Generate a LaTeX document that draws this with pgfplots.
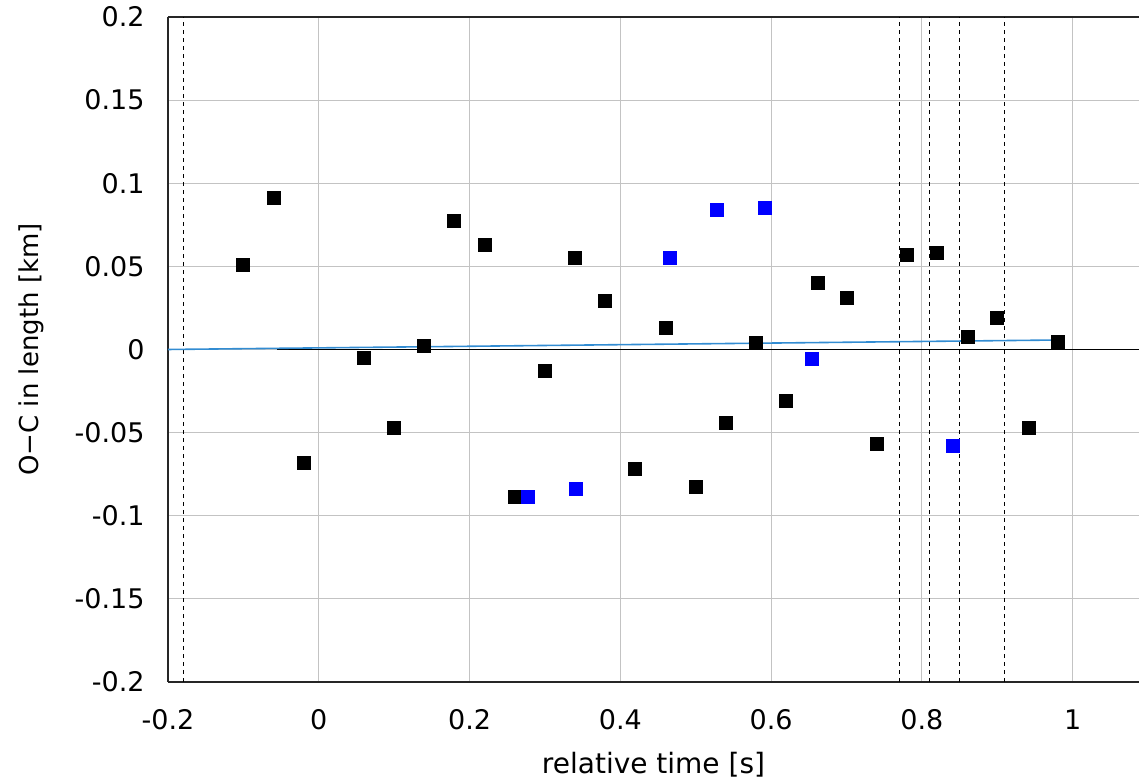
\documentclass[border=0pt]{standalone}
\usepackage{pgfplots}
\pgfplotsset{compat=1.18}
\usepackage{fontspec}
\setmainfont{DejaVu Sans}
\definecolor{gridgray}{RGB}{195,195,195}
\definecolor{fitblue}{RGB}{50,140,210}
\definecolor{ptblue}{RGB}{0,0,255}
\begin{document}
\fontsize{13.5pt}{16pt}\selectfont
\begin{tikzpicture}
\begin{axis}[
  scale only axis,
  width=485.5pt, height=332.5pt,
  xmin=-0.2, xmax=1.088, ymin=-0.2, ymax=0.2,
  axis x line=box, axis y line=left,
  axis line style={line width=0.7pt, color=black!85, -},
  xtick={-0.2,0,...,1}, ytick={-0.2,-0.15,...,0.2},
  xticklabels={-0.2,0,0.2,0.4,0.6,0.8,1},
  yticklabels={-0.2,-0.15,-0.1,-0.05,0,0.05,0.1,0.15,0.2},
  major tick length=0pt,
  grid=major, major grid style={gridgray, line width=0.5pt},
  /pgf/number format/assume math mode=true,
  xticklabel style={anchor=north, inner sep=0pt, yshift=-13.5pt},
  yticklabel style={anchor=east, inner sep=0pt, xshift=-11.5pt},
  xlabel={relative time [s]},
  ylabel={O−C in length [km]},
  xlabel style={at={(axis description cs:0.5,-0.1053)}, anchor=north, inner sep=0pt, font=\fontsize{14pt}{16pt}\selectfont},
  ylabel style={at={(axis description cs:-0.1545,0.5)}, anchor=north, inner sep=0pt, font=\fontsize{13pt}{15pt}\selectfont},
  clip=true,
]
% dashed vertical lines
\addplot[black, line width=0.5pt, dash pattern=on 2pt off 2pt] coordinates {(-0.18,-0.2) (-0.18,0.2)};
\addplot[black, line width=0.5pt, dash pattern=on 2pt off 2pt] coordinates {(0.77,-0.2) (0.77,0.2)};
\addplot[black, line width=0.5pt, dash pattern=on 2pt off 2pt] coordinates {(0.81,-0.2) (0.81,0.2)};
\addplot[black, line width=0.5pt, dash pattern=on 2pt off 2pt] coordinates {(0.85,-0.2) (0.85,0.2)};
\addplot[black, line width=0.5pt, dash pattern=on 2pt off 2pt] coordinates {(0.91,-0.2) (0.91,0.2)};
% zero line
\addplot[black, line width=0.6pt] coordinates {(-0.055,0) (1.088,0)};
% fit line
\addplot[fitblue, line width=0.8pt] coordinates {(-0.2,0) (0.98,0.0057)};
% black points
\addplot[only marks, mark=square*, mark size=3.25pt, mark options={fill=black, draw=black, line width=0pt}] coordinates {
(-0.10,0.051) (-0.06,0.091) (-0.02,-0.068) (0.06,-0.005) (0.10,-0.047)
(0.14,0.002) (0.18,0.077) (0.22,0.063) (0.26,-0.089) (0.30,-0.013)
(0.34,0.055) (0.38,0.029) (0.42,-0.072) (0.46,0.013) (0.50,-0.083)
(0.54,-0.044) (0.58,0.004) (0.62,-0.031) (0.662,0.040) (0.70,0.031)
(0.74,-0.057) (0.78,0.057) (0.82,0.058) (0.861,0.0075) (0.90,0.019)
(0.942,-0.047) (0.98,0.0045)
};
% blue points
\addplot[only marks, mark=square*, mark size=3.25pt, mark options={fill=ptblue, draw=ptblue, line width=0pt}] coordinates {
(0.277,-0.089) (0.341,-0.084) (0.466,0.055) (0.528,0.084) (0.592,0.085)
(0.654,-0.006) (0.841,-0.058)
};
\end{axis}
\pgfresetboundingbox
\path[use as bounding box] ([xshift=-84pt,yshift=-50pt]current axis.south west) rectangle ([yshift=8.5pt]current axis.north east);
\end{tikzpicture}
\end{document}
